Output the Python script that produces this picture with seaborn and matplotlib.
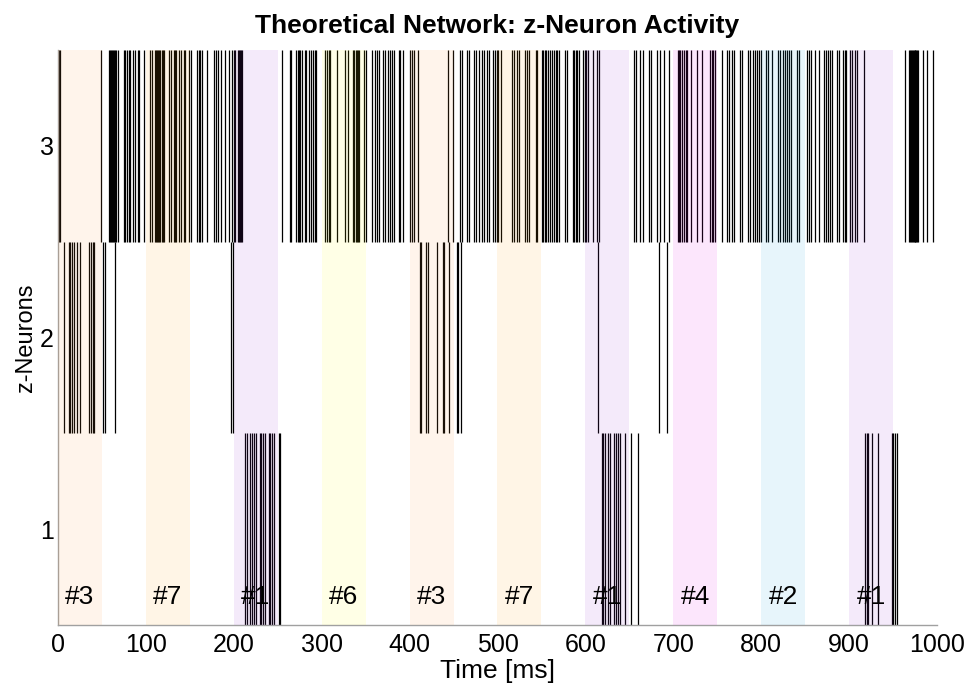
import matplotlib
matplotlib.use("Agg")
import matplotlib.pyplot as plt
import seaborn as sns

# Spike times (ms) of the three z-neurons
z1_spikes = [213, 214.5, 218.5, 220.5, 223.5, 225.5, 230, 231.5, 233, 235, 239.5, 241,
             244, 246, 251, 253,
             618.5, 620, 622, 626, 628.5, 632, 635, 637.5, 639, 645, 652, 659.5,
             918, 920, 921.5, 925.5, 933, 948.5, 950, 952, 955]

z2_spikes = [7, 12, 13.5, 16.5, 18.5, 21.5, 24.5, 35.5, 37.5, 39.5, 41, 51.5, 53.5, 65,
             197, 199,
             412, 413.5, 418.5, 420.5, 431, 437.5, 439.5, 445, 453.5, 455.5, 459,
             614.5, 684, 692.5]

z3_spikes = [1, 2.5, 49.5, 58.5, 59.5, 60.5, 61.5, 62.5, 63.5, 64.5, 65.5, 68.5, 75.5,
             76.5, 78, 81, 82.5, 85.5, 87.5, 91, 92.5, 98, 104.5, 106.5, 110, 111.5, 113,
             114, 115, 116.5, 118, 119.5, 121, 126, 128.5, 131.5, 133, 134.5, 138, 139.5,
             143, 145, 148.5, 151.5, 158, 160, 161.5, 163.5, 169.5, 178, 180, 182, 185.5,
             190, 194.5, 197.5, 200, 201.5, 205, 206, 207, 208, 209.5,
             254.5, 263.5, 265, 271, 272.5, 274, 275.5, 277.5, 281, 282.5, 286, 288, 290,
             292, 294, 304, 306, 308, 310, 317, 327, 329.5, 335.5, 337, 338.5, 340, 341.5,
             343, 348.5, 350, 357.5, 360.5, 363, 365.5, 369.5, 372, 376, 378, 380, 382.5,
             387.5, 389.5, 393, 400.5, 403, 405.5, 410, 444, 449.5, 457, 459.5, 465.5,
             468, 473, 475.5, 478.5, 482, 484.5, 488, 490, 495, 497, 499, 501, 504,
             516.5, 518.5, 522, 524, 531.5, 533.5, 536, 543.5, 545.5, 550.5, 552, 554,
             555.5, 558, 560, 562, 564, 566, 568, 570, 577, 579.5, 586, 587.5, 589, 591,
             593, 597.5, 599, 600.5, 602.5, 609, 613, 616, 655, 658, 662, 665.5, 672,
             674.5, 682, 684.5, 689, 695.5, 705, 706.5, 708, 710, 712, 714, 716, 720.5,
             727.5, 733, 741.5, 744, 745.5, 748, 755, 761.5, 763.5,
             766.5, 768.5, 776, 778.5, 785, 787.5, 790.5, 792.5, 795.5, 797.5, 799.5,
             805.5, 807.5, 812, 819.5, 821, 824.5, 826.5, 829.5, 831.5, 834, 840.5, 842.5,
             852.5, 854.5, 857, 861, 866, 871, 873.5, 876, 878.5, 880, 886.5, 889, 892.5,
             895, 897, 901.5, 903.5, 907, 909, 916.5, 963.5, 968.5, 969.5, 970.5, 971.5,
             972.5, 973.5, 974.5, 975.5, 976.5, 977.5, 978.5, 984.5, 988.5, 996]

neuron_ids = [1, 2, 3]

# Presented input patterns: onset (ms) and pattern label
pattern_onsets = [0, 100, 200, 300, 400, 500, 600, 700, 800, 900]
pattern_labels = ["#3", "#7", "#1", "#6", "#3", "#7", "#1", "#4", "#2", "#1"]
pattern_duration = 50

pattern_colors = {
    "#1": (0.60, 0.20, 0.82),
    "#2": (0.10, 0.65, 0.88),
    "#3": (1.00, 0.60, 0.25),
    "#4": (0.90, 0.05, 0.90),
    "#6": (1.00, 1.00, 0.05),
    "#7": (1.00, 0.62, 0.05),
}

sns.set_theme(style="white")
plt.rcParams["font.family"] = ["Liberation Sans", "DejaVu Sans"]
plt.rcParams.update({
    "text.color": "black",
    "axes.labelcolor": "black",
    "xtick.color": "black",
    "ytick.color": "black",
})

fig = plt.figure(figsize=(9.71, 6.87), dpi=100)
ax = fig.add_axes([0.0597, 0.0902, 0.9053, 0.8370])

ax.eventplot([z1_spikes, z2_spikes, z3_spikes], lineoffsets=neuron_ids,
             linelengths=1.0, linewidths=0.9, colors="black", zorder=2)

for onset, label in zip(pattern_onsets, pattern_labels):
    ax.axvspan(onset, onset + pattern_duration, color=pattern_colors[label],
               alpha=0.1, lw=0, zorder=3)
    ax.text(onset + pattern_duration / 2, 0.645, label, ha="center", va="center",
            fontsize=19, color="black", zorder=4)

ax.set_xlim(0, 1000)
ax.set_ylim(0.5, 3.5)
ax.set_xticks(range(0, 1001, 100))
ax.set_yticks(neuron_ids)
ax.tick_params(axis="both", length=0, labelsize=18)
ax.tick_params(axis="x", pad=6)
ax.tick_params(axis="y", pad=3)

for side in ("top", "right"):
    ax.spines[side].set_visible(False)
for side in ("left", "bottom"):
    ax.spines[side].set_color("#a0a0a0")
    ax.spines[side].set_linewidth(1.0)

ax.set_xlabel("Time [ms]", fontsize=19, labelpad=1)
ax.set_ylabel("z-Neurons", fontsize=17, labelpad=2)
ax.set_title("Theoretical Network: z-Neuron Activity", fontsize=19,
             fontweight="bold", pad=12)

fig.savefig("out.png", dpi=100)
